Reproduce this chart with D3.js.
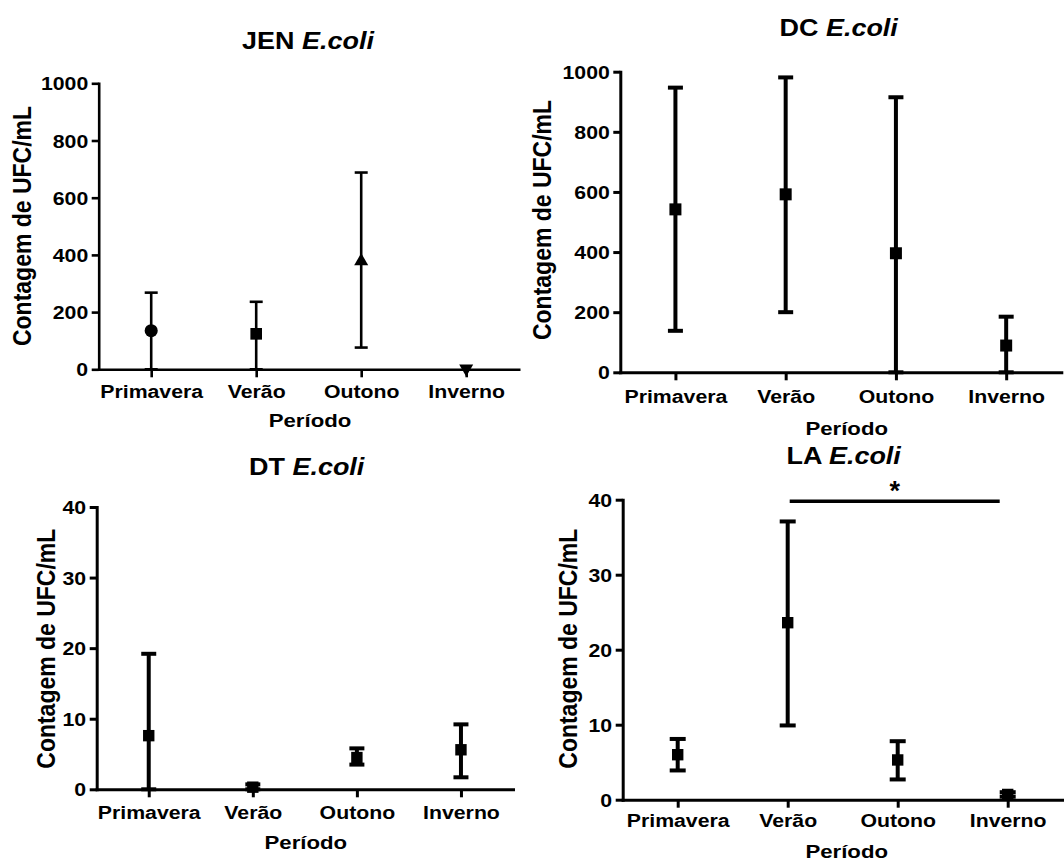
<!DOCTYPE html>
<html><head><meta charset="utf-8">
<script src="https://cdn.jsdelivr.net/npm/d3@7"></script>
<style>
body{margin:0;background:#fff}
svg{display:block}
text{font-family:"Liberation Sans",Arial,sans-serif;font-weight:bold;fill:#000}
</style>
</head><body>
<svg id="c" width="1064" height="864"></svg>
<script>
// ---------------- data ----------------
const categories = ["Primavera", "Verão", "Outono", "Inverno"];
const ticksLarge = [0, 200, 400, 600, 800, 1000];
const ticksSmall = [0, 10, 20, 30, 40];

const jenMean = [135, 124, 378, 3];
const jenLow  = [0, 0, 76, 3];
const jenHigh = [268, 236, 688, 3];
const jenSymbols = ["circle", "square", "triangle", "triangleDown"];

const dcMean = [542, 592, 396, 89];
const dcLow  = [138, 200, 0, 0];
const dcHigh = [947, 981, 915, 185];

const dtMean = [7.6, 0.3, 4.5, 5.6];
const dtLow  = [0, 0, 3.5, 1.7];
const dtHigh = [19.2, 0.7, 5.8, 9.2];

const laMean = [6.0, 23.6, 5.3, 0.7];
const laLow  = [3.9, 9.9, 2.7, 0.4];
const laHigh = [8.1, 37.1, 7.8, 1.0];

const laSigFrom = "Verão", laSigTo = "Inverno", laSigValue = 39.8, laSigLabel = "*";

const yLabel = "Contagem de UFC/mL";
const xLabel = "Período";
const species = "E.coli";

// ---------------- layout ----------------
const panels = [
  {name:"JEN", mean:jenMean, low:jenLow, high:jenHigh, sym:jenSymbols, ticks:ticksLarge, max:1000,
   x0:98.7, x1:518.7, y0:369.3, y1:83.3, titleX:308, titleY:49.3, ylabX:31, ylabY:226,
   xlabX:310, xlabY:427, tickLabY:397.7, lw:2.6, aw:2.6, cap:13, msize:135},
  {name:"DC", mean:dcMean, low:dcLow, high:dcHigh, sym:null, ticks:ticksLarge, max:1000,
   x0:620.3, x1:1061.3, y0:372.3, y1:71.7, titleX:838.7, titleY:36, ylabX:551, ylabY:220,
   xlabX:846.7, xlabY:435, tickLabY:403.3, lw:4, aw:3, cap:15, msize:144},
  {name:"DT", mean:dtMean, low:dtLow, high:dtHigh, sym:null, ticks:ticksSmall, max:40,
   x0:96.7, x1:513, y0:789.3, y1:507, titleX:306.7, titleY:475.3, ylabX:55, ylabY:648.7,
   xlabX:305.8, xlabY:848.7, tickLabY:818.7, lw:4, aw:3, cap:15, msize:130},
  {name:"LA", mean:laMean, low:laLow, high:laHigh, sym:null, ticks:ticksSmall, max:40,
   x0:622.7, x1:1062.7, y0:799.7, y1:499.7, titleX:843.7, titleY:464.3, ylabX:577, ylabY:648.7,
   xlabX:846.7, xlabY:858, tickLabY:826.7, lw:4, aw:3, cap:16, msize:130,
   sig:{from:laSigFrom, to:laSigTo, value:laSigValue, label:laSigLabel}}
];

const SX = 1.15; // horizontal text stretch seen in the reference
const svg = d3.select("#c");

function symbolPath(type, size){
  const map = {circle:d3.symbolCircle, square:d3.symbolSquare, triangle:d3.symbolTriangle, triangleDown:d3.symbolTriangle};
  return d3.symbol().type(map[type] || d3.symbolSquare).size(size)();
}

function drawPanel(p){
  const g = svg.append("g");
  const x = d3.scalePoint().domain(categories).range([p.x0, p.x1]).padding(0.5);
  const y = d3.scaleLinear().domain([0, p.max]).range([p.y0, p.y1]);

  // y axis
  const ya = g.append("g").attr("transform", `translate(${p.x0},0)`)
    .call(d3.axisLeft(y).tickValues(p.ticks).tickSize(7).tickSizeOuter(0).tickFormat(d3.format("d")));
  ya.attr("font-family", null).attr("font-size", null);
  ya.select(".domain").attr("stroke", "#000").attr("stroke-width", p.aw).attr("stroke-linecap", "square");
  ya.selectAll(".tick line").attr("stroke", "#000").attr("stroke-width", p.aw);
  ya.selectAll(".tick text")
    .attr("font-size", 18.5).attr("fill", "#000")
    .attr("x", -10.5 / SX).attr("dy", "0.36em")
    .attr("transform", `scale(${SX},1)`);

  // x axis
  const xa = g.append("g").attr("transform", `translate(0,${p.y0})`)
    .call(d3.axisBottom(x).tickSize(8).tickSizeOuter(0));
  xa.attr("font-family", null).attr("font-size", null);
  xa.select(".domain").attr("stroke", "#000").attr("stroke-width", p.aw).attr("stroke-linecap", "square");
  xa.selectAll(".tick line").attr("stroke", "#000").attr("stroke-width", p.aw);
  xa.selectAll(".tick text")
    .attr("font-size", 18.5).attr("fill", "#000")
    .attr("y", p.tickLabY - p.y0).attr("dy", 0)
    .attr("transform", `scale(${SX},1)`);

  // error bars
  const rows = categories.map((c, i) => ({c, m:p.mean[i], lo:p.low[i], hi:p.high[i], s:p.sym ? p.sym[i] : "square"}));
  const eb = g.append("g").attr("stroke", "#000").attr("stroke-width", p.lw);
  rows.filter(r => r.hi > r.lo).forEach(r => {
    const cx = x(r.c);
    eb.append("line").attr("x1", cx).attr("x2", cx).attr("y1", y(r.lo)).attr("y2", y(r.hi));
    eb.append("line").attr("x1", cx - p.cap/2).attr("x2", cx + p.cap/2).attr("y1", y(r.hi)).attr("y2", y(r.hi));
    eb.append("line").attr("x1", cx - p.cap/2).attr("x2", cx + p.cap/2).attr("y1", y(r.lo)).attr("y2", y(r.lo));
  });

  // markers
  g.append("g").selectAll("path").data(rows).join("path")
    .attr("d", r => symbolPath(r.s, r.s === "triangle" || r.s === "triangleDown" ? 85 : p.msize))
    .attr("transform", r => `translate(${x(r.c)},${y(r.m)})` + (r.s === "triangleDown" ? " rotate(180)" : ""))
    .attr("fill", "#000");

  // title
  const t = g.append("text").attr("text-anchor", "middle").attr("font-size", 24.5)
    .attr("transform", `translate(${p.titleX},${p.titleY}) scale(1.1,1)`);
  t.append("tspan").text(p.name + " ");
  t.append("tspan").attr("font-style", "italic").text(species);

  // axis labels
  g.append("text").attr("text-anchor", "middle").attr("font-size", 23)
    .attr("transform", `translate(${p.ylabX},${p.ylabY}) rotate(-90) scale(1,1.1)`)
    .text(yLabel);
  g.append("text").attr("text-anchor", "middle").attr("font-size", 18.5)
    .attr("transform", `translate(${p.xlabX},${p.xlabY}) scale(1.2,1)`)
    .text(xLabel);

  // significance bar
  if (p.sig){
    const sy = y(p.sig.value);
    const xa1 = x(p.sig.from) + 2, xa2 = x(p.sig.to) - 8;
    g.append("line").attr("x1", xa1).attr("x2", xa2).attr("y1", sy).attr("y2", sy)
      .attr("stroke", "#000").attr("stroke-width", 3.5);
    g.append("text").attr("text-anchor", "middle").attr("font-size", 27)
      .attr("x", (xa1 + xa2) / 2).attr("y", sy - 1.5).text(p.sig.label);
  }
}

panels.forEach(drawPanel);
</script>
</body></html>
